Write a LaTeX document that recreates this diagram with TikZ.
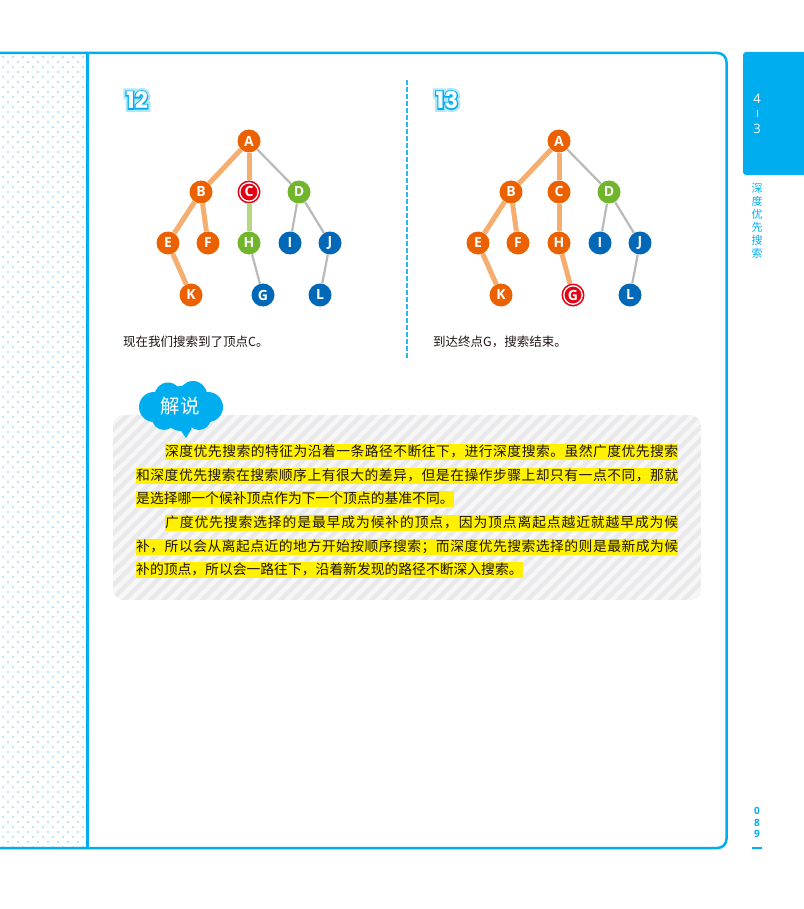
\documentclass[tikz,border=0pt]{standalone}
\usepackage{fontspec}
\setmainfont{Noto Sans CJK SC}
\newfontfamily\cjk{Noto Sans CJK SC}
\newfontfamily\latf{Open Sans}
\newfontfamily\numf{Poppins}
\newfontfamily\numedgef{Poppins}[FakeBold=11]
\newfontfamily\numglowf{Poppins}[FakeBold=30]
\usetikzlibrary{calc}

% spread the characters of one line over a fixed width
\def\spreadit#1{\ifx\relax#1\else#1\hskip 0pt plus 1fil\expandafter\spreadit\fi}

\definecolor{frame}{RGB}{0,174,239}
\definecolor{dotc}{RGB}{172,216,245}
\definecolor{vorg}{RGB}{235,97,0}
\definecolor{eorg}{RGB}{246,173,112}
\definecolor{vgrn}{RGB}{112,181,44}
\definecolor{egrn}{RGB}{183,215,128}
\definecolor{vblu}{RGB}{0,104,183}
\definecolor{vred}{RGB}{228,0,18}
\definecolor{egry}{RGB}{185,185,185}
\definecolor{boxg}{RGB}{233,233,235}
\definecolor{strp}{RGB}{247,247,248}
\definecolor{hl}{RGB}{255,241,0}
\definecolor{ink}{RGB}{30,20,18}

\tikzset{
  vtx/.style={circle, minimum size=23pt, inner sep=0pt, text=white,
    font=\latf\bfseries\fontsize{14}{14}\selectfont},
  org/.style={vtx, fill=vorg},
  grn/.style={vtx, fill=vgrn},
  blu/.style={vtx, fill=vblu},
  cur/.style={vtx, fill=vred, path picture={
    \draw[white, line width=1.3pt] (path picture bounding box.center) circle (9.2pt);}},
  done/.style={line width=5pt, eorg},
  seen/.style={line width=5pt, egrn},
  todo/.style={line width=2.2pt, egry},
  numglow/.style={text=frame!30, font=\numglowf\bfseries\fontsize{23}{23}\selectfont},
  numedge/.style={text=frame, font=\numedgef\bfseries\fontsize{23}{23}\selectfont},
  numface/.style={text=white, font=\numf\bfseries\fontsize{23}{23}\selectfont},
  caption/.style={anchor=west, text=ink, inner sep=0pt, font=\cjk\fontsize{12.5}{13}\selectfont},
  hline/.style={anchor=west, fill=hl, text=ink, inner xsep=0pt, inner ysep=0.8pt,
    text height=11pt, text depth=3pt, font=\cjk\fontsize{13.8}{16}\selectfont},
  tabtxt/.style={text=frame, inner sep=0pt, font=\cjk\fontsize{11}{11}\selectfont},
  pagenum/.style={text=frame, inner sep=0pt, font=\latf\bfseries\fontsize{10}{10}\selectfont}
}

% outlined step number with a soft halo
\newcommand{\glowlabel}[3]{%
  \node[numglow] at #2 {#3};
  \node[numedge] at #2 {#3};
  \node[numface] (#1) at #2 {#3};
}

\begin{document}
\begin{tikzpicture}[x=1pt,y=-1pt]
  \useasboundingbox (0,0) rectangle (803,909);

  % dotted margin
  \foreach \y in {57,67,...,847}
    \foreach \x in {3,13,...,83}
      \fill[dotc] (\x,\y) circle (1.1);
  \foreach \y in {62,72,...,842}
    \foreach \x in {8,18,...,78}
      \fill[dotc] (\x,\y) circle (1.1);

  % page frame
  \draw[frame, line width=2.5pt, rounded corners=9pt] (-5,53) -- (726.5,53) -- (726.5,848) -- (-5,848);
  \draw[frame, line width=3pt] (87,53) -- (87,848);

  % chapter tab
  \fill[frame, rounded corners=3pt] (743,52) rectangle (815,175);
  \node[text=white, font=\latf\fontsize{13}{13}\selectfont] (t4) at (757,99) {4};
  \draw[white, line width=1pt] (757,110) -- (757,117);
  \node[text=white, font=\latf\fontsize{13}{13}\selectfont] (t3) at (757,129) {3};
  \foreach \c [count=\i] in {深,度,优,先,搜,索}
    \node[tabtxt] at (757,175+13*\i) {\c};
  \node[pagenum] (p0) at (757,811) {0};
  \node[pagenum] (p8) at (757,823) {8};
  \node[pagenum] (p9) at (757,834) {9};
  \draw[frame, line width=2pt] (752,848) -- (762,848);

  % separator
  \draw[frame!85, line width=1.4pt, dash pattern=on 5pt off 2pt] (407,80) -- (407,360);

  % step 12
  \glowlabel{n12}{(137,100)}{12}
  \begin{scope}
    \node[org] (lA) at (249,141) {A};
    \node[org] (lB) at (201,192) {B};
    \node[cur] (lC) at (249,192) {C};
    \node[grn] (lD) at (299,192) {D};
    \node[org] (lE) at (168,243) {E};
    \node[org] (lF) at (208,243) {F};
    \node[grn] (lH) at (249,243) {H};
    \node[blu] (lI) at (290,243) {I};
    \node[blu] (lJ) at (330,243) {J};
    \node[org] (lK) at (191,295) {K};
    \node[blu] (lG) at (263,295) {G};
    \node[blu] (lL) at (320,295) {L};
    \draw[done] (lA) -- (lB);
    \draw[done] (lA) -- (lC);
    \draw[done] (lB) -- (lE);
    \draw[done] (lB) -- (lF);
    \draw[done] (lE) -- (lK);
    \draw[seen] (lC) -- (lH);
    \draw[todo] (lA) -- (lD);
    \draw[todo] (lD) -- (lI);
    \draw[todo] (lD) -- (lJ);
    \draw[todo] (lH) -- (lG);
    \draw[todo] (lJ) -- (lL);
    \node[caption] (cap12) at (123,342) {现在我们搜索到了顶点C。};
  \end{scope}

  % step 13
  \glowlabel{n13}{(447,100)}{13}
  \begin{scope}[xshift=310]
    \node[org] (rA) at (249,141) {A};
    \node[org] (rB) at (201,192) {B};
    \node[org] (rC) at (249,192) {C};
    \node[grn] (rD) at (299,192) {D};
    \node[org] (rE) at (168,243) {E};
    \node[org] (rF) at (208,243) {F};
    \node[org] (rH) at (249,243) {H};
    \node[blu] (rI) at (290,243) {I};
    \node[blu] (rJ) at (330,243) {J};
    \node[org] (rK) at (191,295) {K};
    \node[cur] (rG) at (263,295) {G};
    \node[blu] (rL) at (320,295) {L};
    \draw[done] (rA) -- (rB);
    \draw[done] (rA) -- (rC);
    \draw[done] (rB) -- (rE);
    \draw[done] (rB) -- (rF);
    \draw[done] (rE) -- (rK);
    \draw[done] (rC) -- (rH);
    \draw[done] (rH) -- (rG);
    \draw[todo] (rA) -- (rD);
    \draw[todo] (rD) -- (rI);
    \draw[todo] (rD) -- (rJ);
    \draw[todo] (rJ) -- (rL);
    \node[caption] (cap13) at (123,342) {到达终点G，搜索结束。};
  \end{scope}

  % explanation box
  \begin{scope}
    \clip[rounded corners=11pt] (113,415) rectangle (701,600);
    \fill[boxg] (113,415) rectangle (701,600);
    \foreach \s in {-200,-187,...,600}
      \draw[strp, line width=4.5pt] (113+\s,610) -- ++(210,-210);
  \end{scope}

  % cloud badge
  \begin{scope}[fill=frame]
    \fill (154,407) circle (15);
    \fill (168,396) circle (13.5);
    \fill (193,395) circle (14);
    \fill (208,407) circle (15);
    \fill (181,414) circle (17);
    \fill (164,418) circle (12);
    \fill (199,418) circle (12);
    \fill (181,404) circle (18);
    \fill (179,428) -- (192,428) -- (186,438) -- cycle;
  \end{scope}
  \node[text=white, font=\cjk\fontsize{19.5}{20}\selectfont] (badge) at (180,406) {解说};

  \node[hline] (l1) at (165,452) {\hbox to 513pt{\spreadit 深度优先搜索的特征为沿着一条路径不断往下，进行深度搜索。虽然广度优先搜索\relax\unskip}};
  \node[hline] (l2) at (136,476) {\hbox to 542pt{\spreadit 和深度优先搜索在搜索顺序上有很大的差异，但是在操作步骤上却只有一点不同，那就\relax\unskip}};
  \node[hline] (l3) at (136,499) {是选择哪一个候补顶点作为下一个顶点的基准不同。};
  \node[hline] (l4) at (165,523) {\hbox to 513pt{\spreadit 广度优先搜索选择的是最早成为候补的顶点，因为顶点离起点越近就越早成为候\relax\unskip}};
  \node[hline] (l5) at (136,547) {\hbox to 542pt{\spreadit 补，所以会从离起点近的地方开始按顺序搜索；而深度优先搜索选择的则是最新成为候\relax\unskip}};
  \node[hline] (l6) at (136,570) {补的顶点，所以会一路往下，沿着新发现的路径不断深入搜索。};
\end{tikzpicture}
\end{document}
